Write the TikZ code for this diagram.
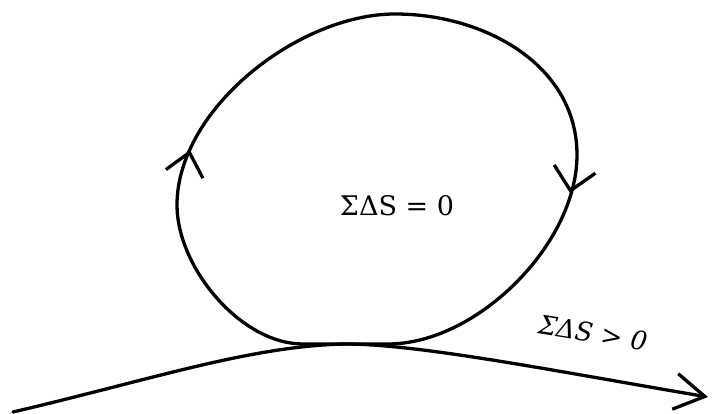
\documentclass[tikz,border=0pt]{standalone}
\usepackage{fontspec}
\setmainfont{DejaVu Serif}
\usetikzlibrary{arrows.meta}
\tikzset{
  curve/.style={line width=3.3pt, line cap=round, line join=round},
  lbl/.style={font=\fontsize{27}{29}\selectfont, inner sep=0pt}
}
\begin{document}
\begin{tikzpicture}[x=1pt,y=-1pt]
\useasboundingbox (0,0) rectangle (716,414);
% loop key points
\coordinate (botl) at (303,344);
\coordinate (botr) at (388,344);
\coordinate (lft) at (177,205);
\coordinate (top) at (395,14);
\coordinate (rgt) at (577,155);
\draw[curve] (botl) to[out=180,in=-90,looseness=0.85] (lft)
  to[out=90,in=180,looseness=0.85] (top)
  to[out=0,in=90] (rgt)
  to[out=-90,in=0,looseness=0.85] (botr) -- (botl);
% arrowheads on the loop
\coordinate (la0) at (189.3,153);
\coordinate (la) at (190,150);
\coordinate (ra0) at (570.6,190);
\coordinate (ra) at (570,193);
\draw[curve, -{Straight Barb[length=22pt,width=38pt,line width=3.3pt]}] (la0) -- (la);
\draw[curve, -{Straight Barb[length=22pt,width=42pt,line width=3.3pt]}] (ra0) -- (ra);
% base line
\coordinate (s) at (13,412);
\coordinate (m) at (345,344);
\coordinate (e) at (708,397);
\draw[curve, -{Straight Barb[length=30pt,width=36pt,line width=3.3pt]}]
  (s) .. controls (150,380) and (250,346) .. (m)
      .. controls (420,344) and (560,372) .. (e);
% labels
\node[lbl] (z) at (397,206) {ΣΔS = 0};
\node[lbl, rotate=-9, font=\fontsize{26}{28}\selectfont\itshape] (p) at (593,333) {ΣΔS > 0};
\end{tikzpicture}
\end{document}
